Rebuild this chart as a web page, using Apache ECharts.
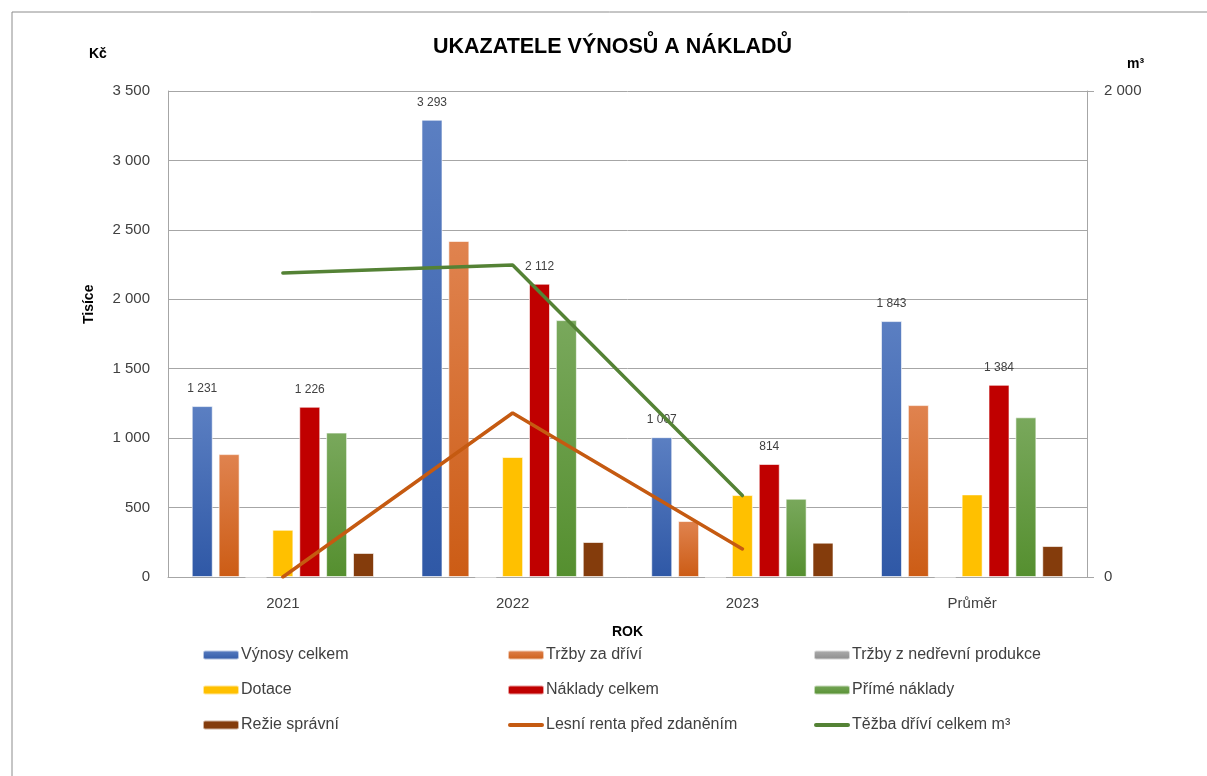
<!DOCTYPE html>
<html>
<head>
<meta charset="utf-8">
<script src="https://cdn.jsdelivr.net/npm/echarts@6/dist/echarts.min.js"></script>
<style>
  html, body { margin: 0; padding: 0; background: #fff; }
  #chart { width: 1207px; height: 776px; }
</style>
</head>
<body>
<div id="chart"></div>
<script>
// hodnoty v tisících Kč, těžba v m³
const roky = ['2021', '2022', '2023', 'Průměr'];
const vynosyCelkem = [1231, 3293, 1007, 1843];
const trzbyDrivi = [885, 2420, 403, 1238];
const trzbyNedrevni = [0, 0, 0, 0];
const dotace = [340, 864, 590, 595];
const nakladyCelkem = [1226, 2112, 814, 1384];
const primeNaklady = [1040, 1850, 564, 1150];
const rezieSpravni = [173, 252, 247, 223];
const lesniRenta = [0, 1181, 202, null];
const tezbaM3 = [1251, 1284, 335, null];
const levaOsaTicks = [0, 500, 1000, 1500, 2000, 2500, 3000, 3500];

const FONT = "'Liberation Sans', Arial, sans-serif";
const LINE_ICON = 'path://M2,0 L34,0 A2,2 0 0 1 34,4 L2,4 A2,2 0 0 1 2,0 Z';

const fmt = v => String(Math.round(v)).replace(/\B(?=(\d{3})+(?!\d))/g, ' ');

const grad = (top, bottom) => new echarts.graphic.LinearGradient(0, 0, 0, 1, [
  { offset: 0, color: top }, { offset: 1, color: bottom }
]);

const barBase = {
  type: 'bar',
  barWidth: 21,
  barGap: '28%',
  itemStyle: { borderColor: 'rgba(255,255,255,0.6)', borderWidth: 1 }
};

const topLabel = {
  show: true,
  position: 'top',
  distance: 11,
  fontFamily: FONT,
  fontSize: 12,
  color: '#404040',
  formatter: p => fmt(p.value)
};

const chart = echarts.init(document.getElementById('chart'));

chart.setOption({
  animation: false,
  backgroundColor: '#fff',
  title: {
    text: 'UKAZATELE VÝNOSŮ A NÁKLADŮ',
    left: 428,
    top: 31,
    textStyle: { fontFamily: FONT, fontSize: 21.5, fontWeight: 'bold', color: '#000' }
  },
  graphic: [
    { type: 'line', shape: { x1: 12, y1: 12, x2: 1207, y2: 12 }, style: { stroke: '#8c8c8c', lineWidth: 1 } },
    { type: 'line', shape: { x1: 12, y1: 12, x2: 12, y2: 776 }, style: { stroke: '#8c8c8c', lineWidth: 1 } },
    { type: 'text', left: 89, top: 47, style: { text: 'Kč', fontFamily: FONT, fontSize: 14, fontWeight: 'bold', fill: '#000' } },
    { type: 'text', left: 1127, top: 57, style: { text: 'm³', fontFamily: FONT, fontSize: 14, fontWeight: 'bold', fill: '#000' } },
    { type: 'text', x: 82, y: 324, rotation: Math.PI / 2, style: { text: 'Tisíce', fontFamily: FONT, fontSize: 14, fontWeight: 'bold', fill: '#000' } }
  ],
  legend: [
    { data: ['Výnosy celkem', 'Dotace', 'Režie správní'] },
    { data: ['Tržby za dříví', 'Náklady celkem', { name: 'Lesní renta před zdaněním', icon: LINE_ICON }] },
    { data: ['Tržby z nedřevní produkce', 'Přímé náklady', { name: 'Těžba dříví celkem m³', icon: LINE_ICON }] }
  ].map((l, i) => Object.assign(l, {
    orient: 'vertical',
    left: [197, 502, 808][i],
    top: 641,
    itemGap: 17,
    itemWidth: 36,
    itemHeight: 9,
    textStyle: { fontFamily: FONT, fontSize: 16, color: '#404040', padding: [0, 0, 0, -3], lineHeight: 18 }
  })),
  grid: { left: 168, right: 120, top: 91, bottom: 199 },
  xAxis: {
    type: 'category',
    data: roky,
    name: 'ROK',
    nameLocation: 'middle',
    nameGap: 48,
    nameTextStyle: { fontFamily: FONT, fontSize: 14, fontWeight: 'bold', color: '#000' },
    axisLine: { lineStyle: { color: '#a6a6a6' } },
    axisTick: { show: false },
    axisLabel: { fontFamily: FONT, fontSize: 15, color: '#404040', margin: 19 }
  },
  yAxis: [
    {
      type: 'value',
      min: levaOsaTicks[0],
      max: levaOsaTicks[levaOsaTicks.length - 1],
      interval: 500,
      axisLine: { show: true, lineStyle: { color: '#a6a6a6' } },
      axisTick: { show: false },
      axisLabel: { fontFamily: FONT, fontSize: 15, color: '#404040', margin: 18, formatter: fmt },
      splitLine: { lineStyle: { color: '#a6a6a6' } }
    },
    {
      type: 'value',
      min: 0,
      max: 2000,
      interval: 2000,
      axisLine: { show: true, lineStyle: { color: '#a6a6a6' } },
      axisTick: { show: true, length: 7, inside: false, lineStyle: { color: '#a6a6a6' } },
      axisLabel: { fontFamily: FONT, fontSize: 15, color: '#404040', margin: 17, formatter: fmt },
      splitLine: { show: false }
    }
  ],
  series: [
    Object.assign({}, barBase, { name: 'Výnosy celkem', data: vynosyCelkem, color: '#4472C4',
      itemStyle: Object.assign({}, barBase.itemStyle, { color: grad('#5b7fc2', '#2f58a6') }), label: topLabel }),
    Object.assign({}, barBase, { name: 'Tržby za dříví', data: trzbyDrivi, color: '#E07B3F',
      itemStyle: Object.assign({}, barBase.itemStyle, { color: grad('#e0834f', '#cc5c15') }) }),
    Object.assign({}, barBase, { name: 'Tržby z nedřevní produkce', data: trzbyNedrevni, color: '#A5A5A5',
      itemStyle: Object.assign({}, barBase.itemStyle, { color: grad('#b0b0b0', '#8a8a8a') }) }),
    Object.assign({}, barBase, { name: 'Dotace', data: dotace, color: '#FFC000',
      itemStyle: Object.assign({}, barBase.itemStyle, { color: '#FFC000' }) }),
    Object.assign({}, barBase, { name: 'Náklady celkem', data: nakladyCelkem, color: '#C00000',
      itemStyle: Object.assign({}, barBase.itemStyle, { color: '#C00000' }), label: topLabel }),
    Object.assign({}, barBase, { name: 'Přímé náklady', data: primeNaklady, color: '#70AD47',
      itemStyle: Object.assign({}, barBase.itemStyle, { color: grad('#79a85c', '#558f2f') }) }),
    Object.assign({}, barBase, { name: 'Režie správní', data: rezieSpravni, color: '#843C0C',
      itemStyle: Object.assign({}, barBase.itemStyle, { color: '#843C0C' }) }),
    {
      name: 'Lesní renta před zdaněním',
      type: 'line',
      data: lesniRenta,
      symbol: 'none',
      color: '#C55A11',
      itemStyle: { color: '#C55A11' },
      lineStyle: { color: '#C55A11', width: 3.5, cap: 'round' },
      z: 5
    },
    {
      name: 'Těžba dříví celkem m³',
      type: 'line',
      yAxisIndex: 1,
      data: tezbaM3,
      symbol: 'none',
      color: '#548235',
      itemStyle: { color: '#548235' },
      lineStyle: { color: '#548235', width: 3.5, cap: 'round' },
      z: 5
    }
  ]
});

window.addEventListener('resize', () => chart.resize());
</script>
</body>
</html>
